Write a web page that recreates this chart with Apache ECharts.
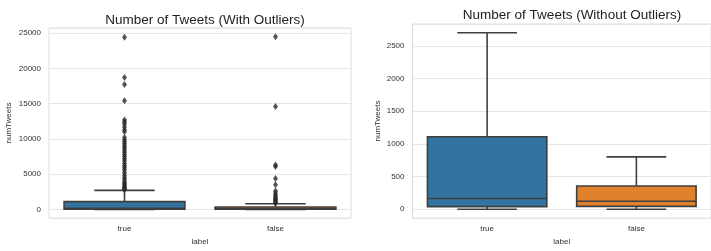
<!DOCTYPE html>
<html>
<head>
<meta charset="utf-8">
<script src="https://cdn.jsdelivr.net/npm/echarts@6/dist/echarts.min.js"></script>
<style>
  html, body { margin: 0; padding: 0; background: #fff; }
  #main { width: 711px; height: 251px; }
</style>
</head>
<body>
<div id="main"></div>
<script>
// 类别
var categories = ['true', 'false'];
// 箱线数据: [low, q1, median, q3, high]
var boxTrue = [0, 40, 165, 1110, 2700];
var boxFalse = [0, 45, 123, 356, 802];
// 离群点 (只在左图)
var outTrue = [24400, 18700, 17700, 15400, 12700, 12400, 12100, 11700, 11300, 11000,
  10200, 9900, 9600, 9300, 9000, 8700, 8400, 8100, 7800, 7500, 7200, 6900, 6500, 6200,
  5900, 5600, 5200, 4800, 4500, 4200, 3900, 3700, 3500, 3300, 3150, 3000, 2900, 2800];
var outFalse = [24500, 14600, 6300, 6100, 4400, 3500, 2600, 2300, 2000, 1800, 1600,
  1450, 1300, 1150, 1000, 900];

var boxColors = ['#3274a1', '#e1812c'];
var edge = '#3f3f3f';
var font = 'Liberation Sans';

function renderBox(params, api) {
  var ci = api.value(0);
  var band = api.size([1, 0])[0];
  var half = band * 0.4;
  var cap = band * 0.2;
  var pLow = api.coord([ci, api.value(1)]);
  var pQ1 = api.coord([ci, api.value(2)]);
  var pMed = api.coord([ci, api.value(3)]);
  var pQ3 = api.coord([ci, api.value(4)]);
  var pHigh = api.coord([ci, api.value(5)]);
  var x = pQ1[0];
  var ls = { stroke: edge, lineWidth: 1.6 };
  return {
    type: 'group',
    children: [
      { type: 'line', shape: { x1: x, y1: pQ3[1], x2: x, y2: pHigh[1] }, style: ls },
      { type: 'line', shape: { x1: x, y1: pQ1[1], x2: x, y2: pLow[1] }, style: ls },
      { type: 'line', shape: { x1: x - cap, y1: pHigh[1], x2: x + cap, y2: pHigh[1] }, style: ls },
      { type: 'line', shape: { x1: x - cap, y1: pLow[1], x2: x + cap, y2: pLow[1] }, style: ls },
      { type: 'rect', shape: { x: x - half, y: pQ3[1], width: half * 2, height: pQ1[1] - pQ3[1] },
        style: { fill: boxColors[ci], stroke: edge, lineWidth: 1.6 } },
      { type: 'line', shape: { x1: x - half, y1: pMed[1], x2: x + half, y2: pMed[1] }, style: ls }
    ]
  };
}

function yLabel(step) {
  return function (v) { return (v % step === 0) ? String(v) : ''; };
}

var axisText = { fontFamily: font, fontSize: 8, color: '#333' };

var option = {
  animation: false,
  backgroundColor: '#fff',
  title: [
    { text: 'Number of Tweets (With Outliers)', left: 200, top: 8, textAlign: 'center',
      textStyle: { fontFamily: font, fontSize: 13.5, fontWeight: 'normal', color: '#222' } },
    { text: 'Number of Tweets (Without Outliers)', left: 567, top: 3, textAlign: 'center',
      textStyle: { fontFamily: font, fontSize: 13.5, fontWeight: 'normal', color: '#222' } }
  ],
  grid: [
    { left: 49, top: 28, width: 302, height: 196.5, show: true, borderColor: '#dcdcdc', borderWidth: 1 },
    { left: 412.5, top: 24, width: 310, height: 199.5, show: true, borderColor: '#dcdcdc', borderWidth: 1 }
  ],
  xAxis: [0, 1].map(function (i) {
    return {
      type: 'category', gridIndex: i, data: categories,
      name: 'label', nameLocation: 'middle', nameGap: 17,
      nameTextStyle: axisText,
      axisLine: { show: false }, axisTick: { show: false },
      axisLabel: Object.assign({ margin: 7 }, axisText),
      splitLine: { show: false }
    };
  }),
  yAxis: [
    { type: 'value', gridIndex: 0, min: -1225, max: 25725,
      name: 'numTweets', nameLocation: 'middle', nameRotate: 90, nameGap: 36,
      nameTextStyle: axisText,
      axisLine: { show: false }, axisTick: { show: false },
      axisLabel: Object.assign({ margin: 8, formatter: yLabel(5000) }, axisText),
      splitLine: { lineStyle: { color: '#e6e6e6', width: 1 } } },
    { type: 'value', gridIndex: 1, min: -135, max: 2835,
      name: 'numTweets', nameLocation: 'middle', nameRotate: 90, nameGap: 31,
      nameTextStyle: axisText,
      axisLine: { show: false }, axisTick: { show: false },
      axisLabel: Object.assign({ margin: 8, formatter: yLabel(500) }, axisText),
      splitLine: { lineStyle: { color: '#e6e6e6', width: 1 } } }
  ],
  series: [
    { type: 'custom', xAxisIndex: 0, yAxisIndex: 0, renderItem: renderBox,
      data: [[0].concat(boxTrue), [1].concat(boxFalse)] },
    { type: 'custom', xAxisIndex: 1, yAxisIndex: 1, renderItem: renderBox,
      data: [[0].concat(boxTrue), [1].concat(boxFalse)] },
    { type: 'scatter', xAxisIndex: 0, yAxisIndex: 0, symbol: 'diamond', symbolSize: [5, 7],
      itemStyle: { color: '#2b2b2b' },
      data: outTrue.map(function (v) { return [0, v]; }).concat(outFalse.map(function (v) { return [1, v]; })) }
  ]
};

var myChart = echarts.init(document.getElementById('main'));
myChart.setOption(option);
</script>
</body>
</html>
